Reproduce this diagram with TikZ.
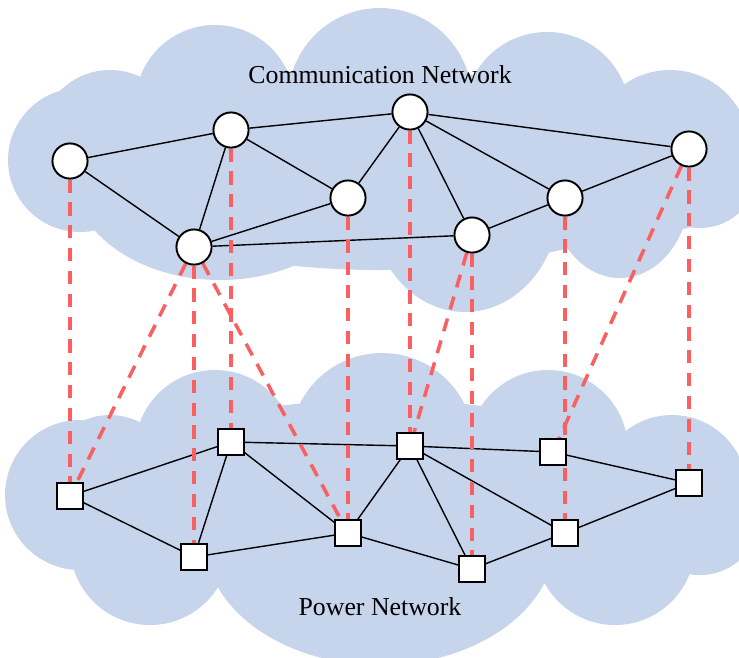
\documentclass[tikz,border=0pt]{standalone}
\usepackage{fontspec}
\setmainfont{Liberation Serif}
\usepackage{tikz}
\definecolor{cloudblue}{RGB}{198,212,236}
\definecolor{linkred}{RGB}{250,96,96}
\usetikzlibrary{backgrounds}
\pgfdeclarelayer{links}
\pgfsetlayers{background,links,main}

\begin{document}
\begin{tikzpicture}[x=0.02cm,y=-0.02cm,
        commnode/.style={circle,draw,line width=1.1pt,fill=white,minimum size=20pt,inner sep=0pt},
        powernode/.style={rectangle,draw,line width=1.1pt,fill=white,minimum size=14.5pt,inner sep=0pt},
        link/.style={line width=0.8pt},
        coupling/.style={draw=linkred,line width=2pt,dash pattern=on 7.5pt off 5.5pt}]
        \useasboundingbox (0,0) rectangle (739,657);

        % clouds
        \begin{pgfonlayer}{background}
            \clip (0,0) rectangle (739,657);
            \begin{scope}[fill=cloudblue]
                \fill (80,160) circle (72);
                \fill (110,140) circle (70);
                \fill (215,105) circle (80);
                \fill (380,100) circle (92);
                \fill (547,115) circle (83);
                \fill (670,150) circle (80);
                \fill (700,170) circle (58);
                \fill (220,170) ellipse (150 and 110);
                \fill (465,200) ellipse (95 and 112);
                \fill (620,190) ellipse (70 and 88);
                \fill (380,170) ellipse (300 and 100);

                \fill (80,495) circle (75);
                \fill (110,480) circle (65);
                \fill (215,450) circle (80);
                \fill (382,445) circle (92);
                \fill (548,450) circle (80);
                \fill (672,490) circle (75);
                \fill (700,515) circle (60);
                \fill (150,545) circle (80);
                \fill (380,540) ellipse (175 and 125);
                \fill (615,545) circle (80);
                \fill (380,500) ellipse (300 and 100);
            \end{scope}
        \end{pgfonlayer}

        \node at (380,75) {\fontsize{14.7}{17}\selectfont Communication Network};
        \node at (380,607) {\fontsize{14.7}{17}\selectfont Power Network};

        % communication network
        \node[commnode] (c1) at (70,161) {};
        \node[commnode] (c2) at (231,130) {};
        \node[commnode] (c3) at (410,112) {};
        \node[commnode] (c4) at (348,198) {};
        \node[commnode] (c5) at (194,247) {};
        \node[commnode] (c6) at (472,235) {};
        \node[commnode] (c7) at (565,198) {};
        \node[commnode] (c8) at (689,149) {};

        % power network
        \node[powernode] (p1) at (70,496) {};
        \node[powernode] (p2) at (231,442) {};
        \node[powernode] (p3) at (194,557) {};
        \node[powernode] (p4) at (348,533) {};
        \node[powernode] (p5) at (410,446) {};
        \node[powernode] (p6) at (472,569) {};
        \node[powernode] (p7) at (553,452) {};
        \node[powernode] (p8) at (565,533) {};
        \node[powernode] (p9) at (689,483) {};

        \begin{pgfonlayer}{links}
            \foreach \a/\b in {c1/c2,c1/c5,c2/c5,c2/c3,c2/c4,c4/c3,c4/c5,c5/c6,
                               c3/c6,c3/c7,c3/c8,c6/c7,c7/c8}
                \draw[link] (\a) -- (\b);
            \foreach \a/\b in {p1/p2,p1/p3,p2/p3,p2/p4,p2/p5,p3/p4,p4/p5,p4/p6,
                               p5/p6,p5/p7,p5/p8,p7/p9,p6/p8,p8/p9}
                \draw[link] (\a) -- (\b);
            % interdependency
            \foreach \a/\b in {c1/p1,c5/p1,c5/p3,c2/p2,c5/p4,c4/p4,c3/p5,c6/p5,
                               c6/p6,c7/p8,c8/p7,c8/p9}
                \draw[coupling] (\a) -- (\b);
        \end{pgfonlayer}
    \end{tikzpicture}
\end{document}
